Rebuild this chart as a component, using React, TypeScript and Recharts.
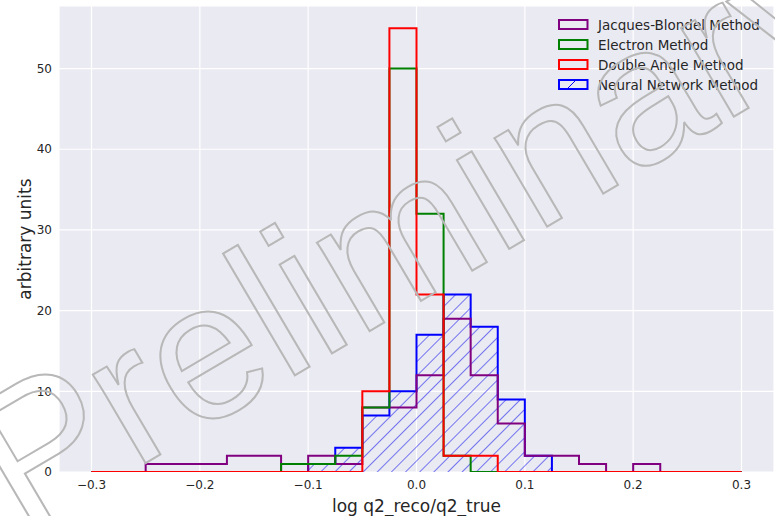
import React from 'react';
import {ComposedChart, Line, Area, XAxis, YAxis, CartesianGrid} from 'recharts';

// bin edges, every 0.025 from -0.3 to 0.3
const binEdges = [
  -0.3, -0.275, -0.25, -0.225, -0.2, -0.175, -0.15, -0.125, -0.1, -0.075, -0.05, -0.025,
  0, 0.025, 0.05, 0.075, 0.1, 0.125, 0.15, 0.175, 0.2, 0.225, 0.25, 0.275, 0.3,
];

// counts per bin (24 bins)
const jacquesBlondel = [0, 0, 1, 1, 1, 2, 2, 0, 2, 1, 8, 8, 12, 19, 12, 6, 2, 2, 1, 0, 1, 0, 0, 0];
const electron = [0, 0, 0, 0, 0, 0, 0, 1, 1, 2, 8, 50, 32, 2, 0, 0, 0, 0, 0, 0, 0, 0, 0, 0];
const doubleAngle = [0, 0, 0, 0, 0, 0, 0, 0, 0, 0, 10, 55, 22, 2, 2, 0, 0, 0, 0, 0, 0, 0, 0, 0];
const neuralNetwork = [0, 0, 0, 0, 0, 0, 0, 0, 1, 3, 7, 10, 17, 22, 18, 9, 2, 0, 0, 0, 0, 0, 0, 0];

const xTicks = [-0.3, -0.2, -0.1, 0, 0.1, 0.2, 0.3];
const yTicks = [0, 10, 20, 30, 40, 50];

const legendItems = [
  {name: 'Jacques-Blondel Method', color: '#800080', hatch: false},
  {name: 'Electron Method', color: '#008000', hatch: false},
  {name: 'Double Angle Method', color: '#ff0000', hatch: false},
  {name: 'Neural Network Method', color: '#0000ff', hatch: true},
];

// step data: value of bin i sits on its left edge, last edge repeats the last bin
const data = binEdges.map((x, i) => {
  const k = Math.min(i, jacquesBlondel.length - 1);
  return {
    x,
    jb: jacquesBlondel[k],
    el: electron[k],
    da: doubleAngle[k],
    nn: neuralNetwork[k],
  };
});

const fmtX = (v: number) => {
  const s = Math.abs(v).toFixed(1);
  return v < -1e-9 ? '\u2212' + s : s;
};

const font = '"DejaVu Sans", sans-serif';
const textColor = '#262626';

export default function App() {
  return (
    <div style={{position: 'absolute', left: 0, top: 0, width: 775, height: 516, background: '#fff'}}>
      <ComposedChart
        width={775}
        height={516}
        data={data}
        margin={{top: 6, right: 1, bottom: 0, left: 0}}
      >
        <defs>
          <pattern id="hatch" width="10" height="10" patternUnits="userSpaceOnUse" patternTransform="rotate(45)">
            <line x1="0" y1="-1" x2="0" y2="11" stroke="#1010ee" strokeWidth={1.1} />
          </pattern>
        </defs>
        <CartesianGrid fill="#EAEAF2" stroke="#ffffff" strokeWidth={1.2} />
        <XAxis
          dataKey="x"
          type="number"
          domain={[-0.33, 0.33]}
          ticks={xTicks}
          tickFormatter={fmtX}
          allowDataOverflow
          axisLine={false}
          tickLine={false}
          tickSize={6}
          tickMargin={2}
          height={44}
          tick={{fontSize: 12, fontFamily: font, fill: textColor}}
          label={{value: 'log q2_reco/q2_true', position: 'insideBottom', offset: 4, fontSize: 17, fontFamily: font, fill: textColor}}
        />
        <YAxis
          type="number"
          domain={[0, 57.75]}
          ticks={yTicks}
          allowDataOverflow
          axisLine={false}
          tickLine={false}
          tickSize={5}
          tickMargin={2}
          width={59}
          tick={{fontSize: 12, fontFamily: font, fill: textColor}}
          label={{value: 'arbitrary units', angle: -90, position: 'center', dx: -5, fontSize: 17, fontFamily: font, fill: textColor}}
        />
        <Line type="stepAfter" dataKey="jb" stroke="#800080" strokeWidth={2} dot={false} activeDot={false} isAnimationActive={false} strokeLinejoin="miter" />
        <Line type="stepAfter" dataKey="el" stroke="#008000" strokeWidth={2} dot={false} activeDot={false} isAnimationActive={false} strokeLinejoin="miter" />
        <Line type="stepAfter" dataKey="da" stroke="#ff0000" strokeWidth={2} dot={false} activeDot={false} isAnimationActive={false} strokeLinejoin="miter" />
        <Area type="stepAfter" dataKey="nn" stroke="#0000ff" strokeWidth={2} fill="url(#hatch)" fillOpacity={1} dot={false} activeDot={false} isAnimationActive={false} strokeLinejoin="miter" />
      </ComposedChart>

      <svg width={775} height={516} style={{position: 'absolute', left: 0, top: 0, pointerEvents: 'none'}}>
        {legendItems.map((item, i) => {
          const cy = 24.5 + i * 20;
          return (
            <g key={item.name}>
              <rect x={559} y={cy - 4.5} width={28.5} height={9} fill="none" stroke={item.color} strokeWidth={2} />
              {item.hatch && <line x1={567} y1={cy + 4.5} x2={576} y2={cy - 4.5} stroke={item.color} strokeWidth={1} />}
              <text x={598} y={cy + 5} fontSize={13.5} fontFamily={font} fill={textColor}>{item.name}</text>
            </g>
          );
        })}
        <text
          x={22}
          y={536}
          transform="rotate(-30.5 22 536)"
          fontSize={195}
          fontFamily='"Liberation Sans", Arial, sans-serif'
          fill="none"
          stroke="#b8b8b8"
          strokeWidth={2}
        >
          Preliminary
        </text>
      </svg>
    </div>
  );
}
